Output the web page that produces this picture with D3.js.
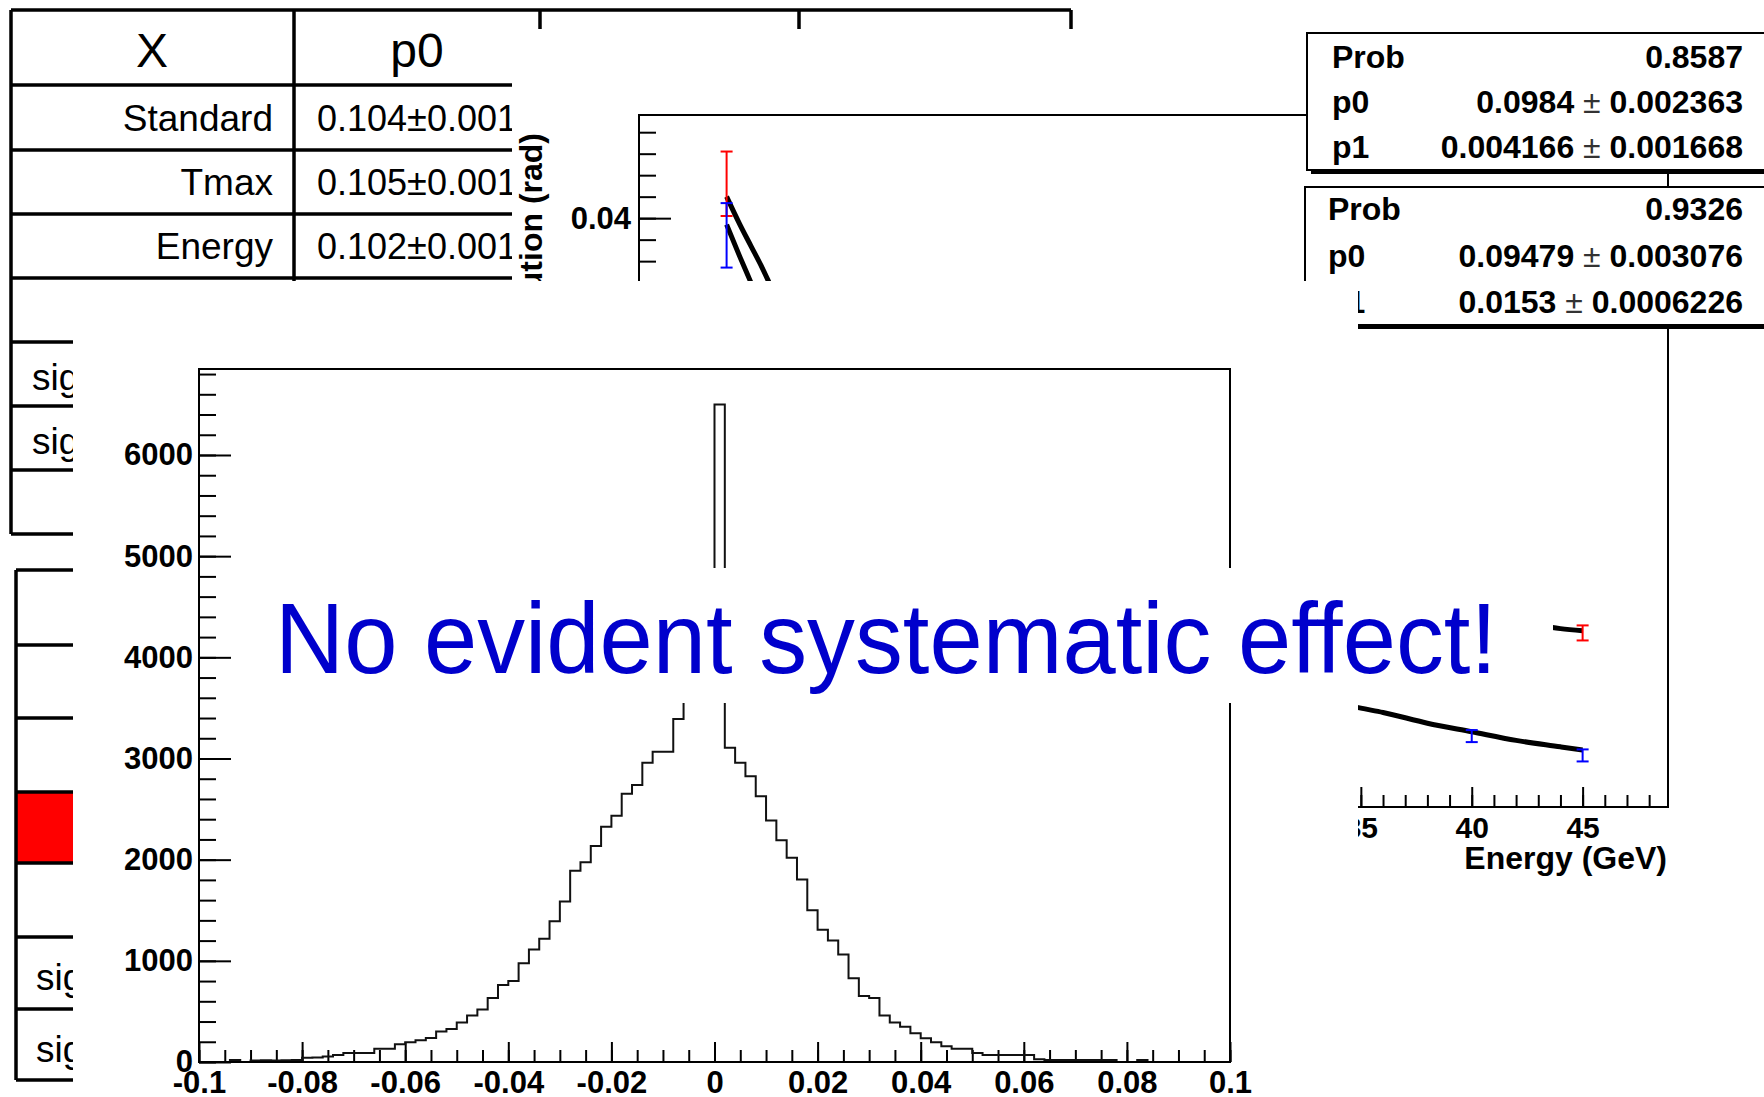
<!DOCTYPE html>
<html>
<head>
<meta charset="utf-8">
<script src="https://cdn.jsdelivr.net/npm/d3@7"></script>
<style>
  body { margin: 0; background: #fff; }
  svg { display: block; }
  text { font-family: 'Liberation Sans', Arial, Helvetica, sans-serif; }
</style>
</head>
<body>
<svg id="slide" width="1764" height="1097"></svg>
<script>
// ---- data ----
const tableHeader = ["X", "p0"];
const tableRows = ["Standard", "Tmax", "Energy"];
const tableP0 = ["0.104±0.001", "0.105±0.001", "0.102±0.001"];
const sigLabels = ["sigma", "sigma"];

// resolution histogram, 100 bins on [-0.1, 0.1]
const histRange = [-0.1, 0.1];
const histCounts = [
    0, 0, 0, 20, 0, 15, 18, 15, 18, 20,
    43, 45, 55, 70, 89, 89, 89, 132, 132, 175,
    195, 215, 238, 301, 325, 391, 460, 520, 632, 762,
    801, 977, 1113, 1219, 1391, 1586, 1891, 1974, 2136, 2325,
    2434, 2652, 2738, 2957, 3066, 3066, 3391, 3700, 4050, 4400,
    6500, 3106, 2957, 2825, 2626, 2387, 2192, 2020, 1805, 1500,
    1308, 1202, 1063, 828, 652, 632, 460, 391, 348, 285,
    235, 195, 156, 132, 132, 89, 70, 70, 70, 70,
    70, 26, 20, 20, 20, 20, 20, 20, 20, 0,
    0, 20, 0, 0, 0, 0, 0, 0, 0, 0
];
const histYTicks = [0, 1000, 2000, 3000, 4000, 5000, 6000];
const histXTicks = [-0.1, -0.08, -0.06, -0.04, -0.02, 0, 0.02, 0.04, 0.06, 0.08, 0.1];

// resolution vs energy graph
const energyTicks = [5, 10, 15, 20, 25, 30, 35, 40, 45];
const resTicks = [0.015, 0.02, 0.025, 0.03, 0.035, 0.04];
const redE = [6.4, 40, 45];
const redRes = [0.0416, 0.0214, 0.0207];
const redErr = [0.0015, 0.0003, 0.00035];
const blueE = [6.4, 40, 45];
const blueRes = [0.0392, 0.0159, 0.0150];
const blueErr = [0.0015, 0.00028, 0.00028];
const fitE = [6.4, 7, 7.5, 8, 8.5, 9, 10, 12, 15, 20, 25, 30, 35, 36, 38, 40, 42, 44, 45];
const fitLow = [0.0397, 0.0382, 0.0370, 0.0358, 0.0348, 0.0338, 0.0318, 0.0289, 0.0258, 0.0224,
                0.0201, 0.0185, 0.0172, 0.0170, 0.0165, 0.0161, 0.0157, 0.0154, 0.01525];
const fitHigh = [0.0410, 0.0397, 0.0387, 0.0377, 0.0366, 0.0356, 0.0337, 0.0314, 0.0289, 0.0261,
                 0.0244, 0.0231, 0.0222, 0.0220, 0.0217, 0.0214, 0.0212, 0.0209, 0.0208];
const statsA = [["Prob", "0.8587"], ["p0", "0.0984", "0.002363"], ["p1", "0.004166", "0.001668"]];
const statsB = [["Prob", "0.9326"], ["p0", "0.09479", "0.003076"], ["p1", "0.0153", "0.0006226"]];

const message = "No evident systematic effect!";

// ---- drawing ----
const svg = d3.select("#slide");
svg.append("rect").attr("width", 1764).attr("height", 1097).attr("fill", "#fff");

// Layer 1: the tables underneath everything
const tables = svg.append("g")
    .attr("stroke", "#000")
    .attr("stroke-width", 3.5);

const topRowsY = [10, 85, 150, 214, 278, 342, 406, 470, 534];
topRowsY.forEach(y => tables.append("line").attr("x1", 11).attr("x2", 1071).attr("y1", y).attr("y2", y));
[11, 294, 540, 799, 1071].forEach(x => tables.append("line").attr("x1", x).attr("x2", x).attr("y1", 10).attr("y2", 534));

const botRowsY = [570, 645, 718, 792, 863, 937, 1009, 1080];
tables.append("rect")
    .attr("x", 16).attr("y", 792).attr("width", 500).attr("height", 71)
    .attr("fill", "#ff0000").attr("stroke", "none");
botRowsY.forEach(y => tables.append("line").attr("x1", 16).attr("x2", 516).attr("y1", y).attr("y2", y));
tables.append("line").attr("x1", 16).attr("x2", 16).attr("y1", 570).attr("y2", 1080);

const tableText = svg.append("g").attr("fill", "#000");
tableText.append("text").attr("x", 152).attr("y", 67).attr("text-anchor", "middle")
    .attr("font-size", 48).text(tableHeader[0]);
tableText.append("text").attr("x", 417).attr("y", 67).attr("text-anchor", "middle")
    .attr("font-size", 48).text(tableHeader[1]);
tableRows.forEach((r, i) => {
    const yc = (topRowsY[i + 1] + topRowsY[i + 2]) / 2 + 13;
    tableText.append("text").attr("x", 273).attr("y", yc).attr("text-anchor", "end")
        .attr("font-size", 37).text(r);
    tableText.append("text").attr("x", 417).attr("y", yc).attr("text-anchor", "middle")
        .attr("font-size", 36).text(tableP0[i]);
});
sigLabels.forEach((s, i) => {
    tableText.append("text").attr("x", 32).attr("y", (topRowsY[5 + i] + topRowsY[6 + i]) / 2 + 16)
        .attr("font-size", 37).text(s);
    tableText.append("text").attr("x", 36).attr("y", (botRowsY[5 + i] + botRowsY[6 + i]) / 2 + 17)
        .attr("font-size", 37).text(s);
});

// Layer 2: ROOT canvas with resolution vs energy
const canvas = svg.append("g");
canvas.append("rect").attr("x", 512).attr("y", 29).attr("width", 1252).attr("height", 1068).attr("fill", "#fff");

const ex = d3.scaleLinear().domain([2.45, 48.85]).range([639, 1668]);
const ey = d3.scaleLinear().domain([0.0126, 0.0448]).range([807, 115]);

function styleAxis(g, size) {
    g.select(".domain").remove();
    g.selectAll(".tick line").attr("stroke", "#000").attr("stroke-width", 2);
    g.selectAll(".tick text")
        .attr("fill", "#000")
        .attr("font-family", "'Liberation Sans', Arial, Helvetica, sans-serif")
        .attr("font-weight", "bold")
        .attr("font-size", size);
}

canvas.append("g").attr("transform", `translate(${ex.range()[0]},0)`)
    .call(d3.axisLeft(ey).tickValues(d3.range(13, 45).map(v => v / 1000)).tickSize(-17).tickFormat(""))
    .call(g => styleAxis(g, 31));
canvas.append("g").attr("transform", `translate(${ex.range()[0]},0)`)
    .call(d3.axisLeft(ey).tickValues(resTicks).tickSize(-32).tickPadding(8).tickFormat(v => String(+v.toFixed(3))))
    .call(g => styleAxis(g, 31));
canvas.append("g").attr("transform", `translate(0,${ey.range()[0]})`)
    .call(d3.axisBottom(ex).tickValues(d3.range(3, 49)).tickSize(-12).tickFormat(""))
    .call(g => styleAxis(g, 30));
canvas.append("g").attr("transform", `translate(0,${ey.range()[0]})`)
    .call(d3.axisBottom(ex).tickValues(energyTicks).tickSize(-20).tickPadding(10).tickFormat(d3.format("d")))
    .call(g => styleAxis(g, 30));

canvas.append("rect")
    .attr("x", ex.range()[0]).attr("y", ey.range()[1])
    .attr("width", ex.range()[1] - ex.range()[0]).attr("height", ey.range()[0] - ey.range()[1])
    .attr("fill", "none").attr("stroke", "#000").attr("stroke-width", 2);

canvas.append("text")
    .attr("transform", "translate(542,133) rotate(-90)")
    .attr("text-anchor", "end").attr("font-weight", "bold").attr("font-size", 32)
    .text("Resolution (rad)");
canvas.append("text")
    .attr("x", 1667).attr("y", 869).attr("text-anchor", "end")
    .attr("font-weight", "bold").attr("font-size", 32)
    .text("Energy (GeV)");

// fit curves
const fitLine = d3.line().curve(d3.curveMonotoneX);
[fitLow, fitHigh].forEach(vals => {
    canvas.append("path")
        .attr("d", fitLine(fitE.map((e, i) => [ex(e), ey(vals[i])])))
        .attr("fill", "none").attr("stroke", "#000").attr("stroke-width", 5);
});

// error bars
function errorBars(es, vals, errs, color) {
    const g = canvas.append("g").attr("stroke", color).attr("stroke-width", 2);
    es.forEach((e, i) => {
        const x = ex(e), y0 = ey(vals[i] - errs[i]), y1 = ey(vals[i] + errs[i]);
        g.append("line").attr("x1", x).attr("x2", x).attr("y1", y0).attr("y2", y1);
        g.append("line").attr("x1", x - 6).attr("x2", x + 6).attr("y1", y0).attr("y2", y0);
        g.append("line").attr("x1", x - 6).attr("x2", x + 6).attr("y1", y1).attr("y2", y1);
    });
}
errorBars(redE, redRes, redErr, "#ff0000");
errorBars(blueE, blueRes, blueErr, "#0000ff");

// fit statistics boxes
function statsBox(x, y, h, rows, labelX, baselines) {
    canvas.append("rect").attr("x", x + 4).attr("y", y + 4).attr("width", 600).attr("height", h).attr("fill", "#000");
    canvas.append("rect").attr("x", x).attr("y", y).attr("width", 600).attr("height", h)
        .attr("fill", "#fff").attr("stroke", "#000").attr("stroke-width", 2);
    rows.forEach((r, i) => {
        canvas.append("text").attr("x", labelX).attr("y", baselines[i])
            .attr("font-weight", "bold").attr("font-size", 32).text(r[0]);
        const t = canvas.append("text").attr("x", 1743).attr("y", baselines[i])
            .attr("text-anchor", "end").attr("font-weight", "bold").attr("font-size", 32);
        if (r.length === 2) {
            t.text(r[1]);
        } else {
            t.append("tspan").text(r[1] + " ");
            t.append("tspan").attr("font-weight", "normal").attr("fill", "#333").text("±");
            t.append("tspan").text(" " + r[2]);
        }
    });
}
statsBox(1307, 33, 137, statsA, 1332, [68, 113, 158]);
statsBox(1305, 187, 138, statsB, 1328, [220, 267, 313]);

// Layer 3: slide with the histogram
const slide = svg.append("g");
slide.append("rect").attr("x", 73).attr("y", 281).attr("width", 1285).attr("height", 816).attr("fill", "#fff");

const hx = d3.scaleLinear().domain(histRange).range([199, 1230]);
const hy = d3.scaleLinear().domain([0, 6850]).range([1062, 369]);

slide.append("g").attr("transform", `translate(${hx.range()[0]},0)`)
    .call(d3.axisLeft(hy).tickValues(d3.range(0, 6801, 200)).tickSize(-17).tickFormat(""))
    .call(g => styleAxis(g, 31));
slide.append("g").attr("transform", `translate(${hx.range()[0]},0)`)
    .call(d3.axisLeft(hy).tickValues(histYTicks).tickSize(-32).tickPadding(6).tickFormat(d3.format("d")))
    .call(g => styleAxis(g, 31));
slide.append("g").attr("transform", `translate(0,${hy.range()[0]})`)
    .call(d3.axisBottom(hx).tickValues(d3.range(-20, 21).map(v => v * 0.005)).tickSize(-12).tickFormat(""))
    .call(g => styleAxis(g, 31));
slide.append("g").attr("transform", `translate(0,${hy.range()[0]})`)
    .call(d3.axisBottom(hx).tickValues(histXTicks).tickSize(-20).tickPadding(9)
        .tickFormat(v => Math.abs(v) < 1e-9 ? "0" : String(+v.toFixed(2))))
    .call(g => styleAxis(g, 31));

// histogram outline as steps
const bw = (histRange[1] - histRange[0]) / histCounts.length;
const steps = [[histRange[0], 0]];
histCounts.forEach((c, i) => {
    const lo = histRange[0] + i * bw;
    steps.push([lo, c], [lo + bw, c]);
});
steps.push([histRange[1], 0]);
slide.append("path")
    .attr("d", d3.line().x(d => hx(d[0])).y(d => hy(d[1]))(steps))
    .attr("fill", "none").attr("stroke", "#111").attr("stroke-width", 2);

slide.append("rect")
    .attr("x", hx.range()[0]).attr("y", hy.range()[1])
    .attr("width", hx.range()[1] - hx.range()[0]).attr("height", hy.range()[0] - hy.range()[1])
    .attr("fill", "none").attr("stroke", "#000").attr("stroke-width", 2);

// Layer 4: the message box on top
const note = svg.append("g");
note.append("rect").attr("x", 250).attr("y", 568).attr("width", 1303).attr("height", 135).attr("fill", "#fff");
note.append("text")
    .attr("x", 275).attr("y", 673)
    .attr("font-size", 100)
    .attr("fill", "#0000cc")
    .attr("textLength", 1222)
    .attr("lengthAdjust", "spacingAndGlyphs")
    .text(message);
</script>
</body>
</html>
